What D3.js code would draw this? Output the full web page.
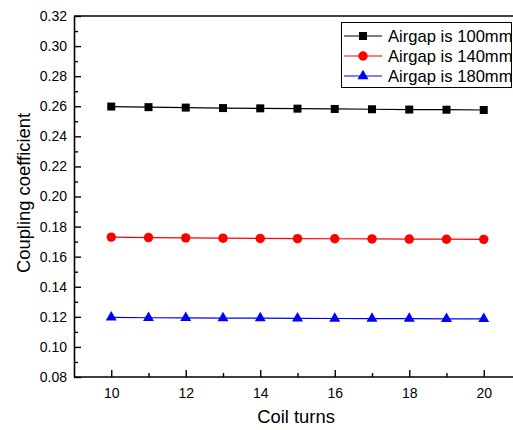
<!DOCTYPE html>
<html>
<head>
<meta charset="utf-8">
<script src="https://cdn.jsdelivr.net/npm/d3@7"></script>
<style>
  body { margin: 0; background: #fff; }
  svg { display: block; font-family: "Liberation Sans", Arial, sans-serif; }
</style>
</head>
<body>
<svg id="chart" width="513" height="430"></svg>
<script>
// coil turns on x
var turns = [10, 11, 12, 13, 14, 15, 16, 17, 18, 19, 20];

// coupling coefficient for each airgap
var airgap100 = [0.2598, 0.2594, 0.2591, 0.2588, 0.2586, 0.2584, 0.2582, 0.2580, 0.2578, 0.2577, 0.2575];
var airgap140 = [0.1730, 0.1727, 0.1725, 0.1723, 0.1721, 0.1720, 0.1719, 0.1718, 0.1717, 0.1716, 0.1715];
var airgap180 = [0.1196, 0.1194, 0.1193, 0.1192, 0.1191, 0.1190, 0.1189, 0.1188, 0.1188, 0.1187, 0.1186];

var seriesNames = ["Airgap is 100mm", "Airgap is 140mm", "Airgap is 180mm"];
var xTicks = [10, 12, 14, 16, 18, 20];
var yTicks = [0.08, 0.10, 0.12, 0.14, 0.16, 0.18, 0.20, 0.22, 0.24, 0.26, 0.28, 0.30, 0.32];

var series = [
    { name: seriesNames[0], values: airgap100, color: "#000000", symbol: d3.symbolSquare, size: 64 },
    { name: seriesNames[1], values: airgap140, color: "#ff0000", symbol: d3.symbolCircle, size: 70 },
    { name: seriesNames[2], values: airgap180, color: "#0000ff", symbol: d3.symbolTriangle, size: 52 }
];

var margin = { top: 16, right: 0, bottom: 53, left: 74 },
    width = 513 - margin.left - margin.right,
    height = 430 - margin.top - margin.bottom;

var svg = d3.select("#chart")
    .append("g")
    .attr("transform", "translate(" + margin.left + "," + margin.top + ")");

var x = d3.scaleLinear().domain([9, 21]).range([0, 447]);
var y = d3.scaleLinear().domain([0.08, 0.32]).range([height, 0]);

// minor ticks
svg.append("g")
    .attr("transform", "translate(0," + height + ")")
    .call(d3.axisBottom(x).tickValues([11, 13, 15, 17, 19]).tickSize(-4).tickFormat(""))
    .call(g => g.select(".domain").remove());
svg.append("g")
    .call(d3.axisLeft(y).tickValues(d3.range(0.09, 0.32, 0.02)).tickSize(-4).tickFormat(""))
    .call(g => g.select(".domain").remove());

// x axis
var xAxis = svg.append("g")
    .attr("transform", "translate(0," + height + ")")
    .call(d3.axisBottom(x).tickValues(xTicks).tickSize(-7).tickPadding(11).tickSizeOuter(0));
xAxis.select(".domain").attr("d", "M0,0H" + (width + 10));

// y axis
var yAxis = svg.append("g")
    .call(d3.axisLeft(y).tickValues(yTicks).tickSize(-7).tickPadding(7)
        .tickSizeOuter(0).tickFormat(d3.format(".2f")));

svg.selectAll(".tick text").attr("font-size", 14).attr("fill", "#000")
    .attr("font-family", "Liberation Sans, Arial, sans-serif");
svg.selectAll(".tick line").attr("stroke", "#000").attr("stroke-width", 1.4);
svg.selectAll(".domain").attr("stroke", "#000").attr("stroke-width", 1.6);

// top frame
svg.append("line")
    .attr("x1", 0).attr("x2", width + 10)
    .attr("y1", 0).attr("y2", 0)
    .attr("stroke", "#000").attr("stroke-width", 1.6);

var line = d3.line()
    .x(function(d, i) { return x(turns[i]); })
    .y(function(d) { return y(d); });

series.forEach(function(s) {
    svg.append("path")
        .datum(s.values)
        .attr("fill", "none")
        .attr("stroke", s.color)
        .attr("stroke-width", 1.2)
        .attr("d", line);

    svg.selectAll(null)
        .data(s.values)
        .enter()
        .append("path")
        .attr("transform", function(d, i) { return "translate(" + x(turns[i]) + "," + y(d) + ")"; })
        .attr("d", d3.symbol().type(s.symbol).size(s.size))
        .attr("fill", s.color);
});

// axis titles
d3.select("#chart").append("text")
    .attr("x", 296).attr("y", 423)
    .attr("text-anchor", "middle")
    .attr("font-size", 18.4)
    .text("Coil turns");

d3.select("#chart").append("text")
    .attr("transform", "translate(30,193) rotate(-90)")
    .attr("text-anchor", "middle")
    .attr("font-size", 18.4)
    .text("Coupling coefficient");

// legend
var legend = d3.select("#chart").append("g");
legend.append("rect")
    .attr("x", 341.5).attr("y", 22.5)
    .attr("width", 170).attr("height", 65)
    .attr("fill", "#fff")
    .attr("stroke", "#000")
    .attr("stroke-width", 1);

series.forEach(function(s, i) {
    var ly = 36 + i * 20;
    legend.append("line")
        .attr("x1", 344).attr("x2", 382)
        .attr("y1", ly).attr("y2", ly)
        .attr("stroke", s.color).attr("stroke-width", 1.2);
    legend.append("path")
        .attr("transform", "translate(363," + ly + ")")
        .attr("d", d3.symbol().type(s.symbol).size(s.size))
        .attr("fill", s.color);
    legend.append("text")
        .attr("x", 388).attr("y", ly + 6)
        .attr("font-size", 16.6)
        .text(s.name);
});
</script>
</body>
</html>
